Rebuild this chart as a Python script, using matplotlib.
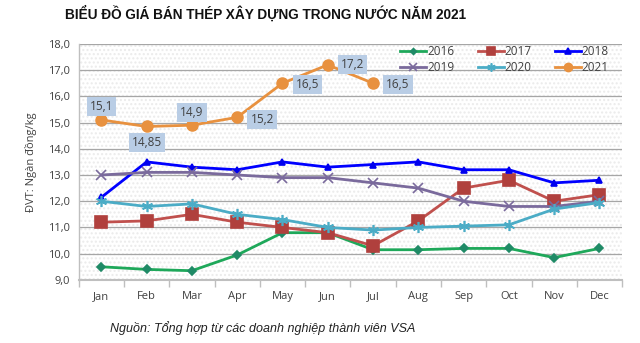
import matplotlib
matplotlib.use("Agg")
import matplotlib.pyplot as plt
from matplotlib.patches import Rectangle

plt.rcParams['font.family'] = ['Liberation Sans', 'DejaVu Sans']

months = ["Jan", "Feb", "Mar", "Apr", "May", "Jun", "Jul", "Aug", "Sep", "Oct", "Nov", "Dec"]
y2016 = [9.5, 9.4, 9.35, 9.95, 10.8, 10.8, 10.15, 10.15, 10.2, 10.2, 9.85, 10.2]
y2017 = [11.2, 11.25, 11.5, 11.2, 11.0, 10.8, 10.3, 11.25, 12.5, 12.8, 12.0, 12.25]
y2018 = [12.15, 13.5, 13.3, 13.2, 13.5, 13.3, 13.4, 13.5, 13.2, 13.2, 12.7, 12.8]
y2019 = [13.0, 13.1, 13.1, 13.0, 12.9, 12.9, 12.7, 12.5, 12.0, 11.8, 11.8, 12.0]
y2020 = [12.0, 11.8, 11.9, 11.5, 11.3, 11.0, 10.9, 11.0, 11.05, 11.1, 11.7, 11.95]
y2021 = [15.1, 14.85, 14.9, 15.2, 16.5, 17.2, 16.5]
labels2021 = ["15,1", "14,85", "14,9", "15,2", "16,5", "17,2", "16,5"]
yticks = [9.0, 10.0, 11.0, 12.0, 13.0, 14.0, 15.0, 16.0, 17.0, 18.0]

fig = plt.figure(figsize=(6.4, 3.43), dpi=100)
ax = fig.add_axes([0.123, 0.184, 0.849, 0.688])

x_all = list(range(len(months)))

# dotted plot-area texture
ax.add_patch(Rectangle((0, 0), 1, 1, transform=ax.transAxes, facecolor='white',
                       hatch='....', edgecolor='#ebebeb', linewidth=0, zorder=0))

series = [
    ("2016", y2016, '#1ea85a', 'D', 4, '#1f8a66'),
    ("2017", y2017, '#c0504d', 's', 8, '#b0403d'),
    ("2018", y2018, '#0000ff', '^', 5, '#0000ee'),
    ("2019", y2019, '#7a6a9c', 'x', 7, '#7a6a9c'),
    ("2020", y2020, '#4bacc6', (6, 2, 0), 8, '#4bacc6'),
]
handles = {}
for name, vals, col, mk, ms, mcol in series:
    h, = ax.plot(x_all, vals, color=col, lw=2, marker=mk, markersize=ms,
                 markerfacecolor=mcol, markeredgecolor=mcol, markeredgewidth=1.2,
                 label=name, zorder=3)
    handles[name] = h

x21 = list(range(len(y2021)))
h, = ax.plot(x21, y2021, color='#e8913f', lw=2, marker='o', markersize=8,
             markerfacecolor='#e8913f', markeredgecolor='#e8913f', label="2021", zorder=4)
handles["2021"] = h

# value labels for 2021
offsets = [(0, 0.5), (0, -0.62), (0, 0.5), (0.55, -0.08), (0.55, -0.05), (0.55, 0.0),
           (0.55, -0.05)]
for xi, (v, t, (dx, dy)) in enumerate(zip(y2021, labels2021, offsets)):
    ax.text(xi + dx, v + dy, t, ha='center', va='center', fontsize=8.5, color='#404040',
            family=['Open Sans', 'DejaVu Sans'],
            bbox=dict(boxstyle='square,pad=0.25', facecolor='#b9cde5', edgecolor='none'),
            zorder=5)

ax.set_xlim(-0.5, 11.5)
ax.set_ylim(9.0, 18.0)
ax.set_yticks(yticks)
ax.set_yticklabels([f"{v:.1f}".replace('.', ',') for v in yticks],
                   fontsize=8, color='#404040', family=['Open Sans', 'DejaVu Sans'])
ax.set_xticks(x_all)
ax.set_xticklabels(months, fontsize=8, color='#404040', family=['Open Sans', 'DejaVu Sans'])
ax.set_xticks([i + 0.5 for i in range(-1, 12)], minor=True)
ax.tick_params(axis='x', which='major', length=0, pad=8)
ax.tick_params(axis='x', which='minor', length=5, color='#bfbfbf', width=1)
ax.tick_params(axis='y', length=0, pad=6)
ax.grid(axis='y', color='#a6a6a6', lw=0.9, zorder=1)
ax.set_axisbelow(True)
for s in ['top', 'right']:
    ax.spines[s].set_visible(False)
ax.spines['left'].set_color('#bfbfbf')
ax.spines['bottom'].set_color('#bfbfbf')
ax.spines['left'].set_linewidth(1)
ax.spines['bottom'].set_linewidth(1.5)

ax.set_ylabel("ĐVT: Ngàn đồng/kg", fontsize=8, color='#404040',
              family=['Open Sans', 'DejaVu Sans'], labelpad=8)

# legend filled row by row: 2016 2017 2018 / 2019 2020 2021
order = ["2016", "2019", "2017", "2020", "2018", "2021"]
leg = ax.legend([handles[k] for k in order], order, ncol=3, loc='upper right',
                bbox_to_anchor=(0.995, 1.04), frameon=False,
                fontsize=8.5, handlelength=2.2, columnspacing=2.0, handletextpad=0.05,
                labelspacing=0.25, markerscale=0.75)
for t in leg.get_texts():
    t.set_color('#404040')
    t.set_family(['Open Sans', 'DejaVu Sans'])

fig.text(0.415, 0.962, "BIỂU ĐỒ GIÁ BÁN THÉP XÂY DỰNG TRONG NƯỚC NĂM 2021",
         ha='center', va='center', fontsize=9.8, fontweight='bold', color='#111111')
fig.text(0.41, 0.045, "Nguồn: Tổng hợp từ các doanh nghiệp thành viên VSA",
         ha='center', va='center', fontsize=9, style='italic', color='#222222')

fig.savefig("out.png", dpi=100)
